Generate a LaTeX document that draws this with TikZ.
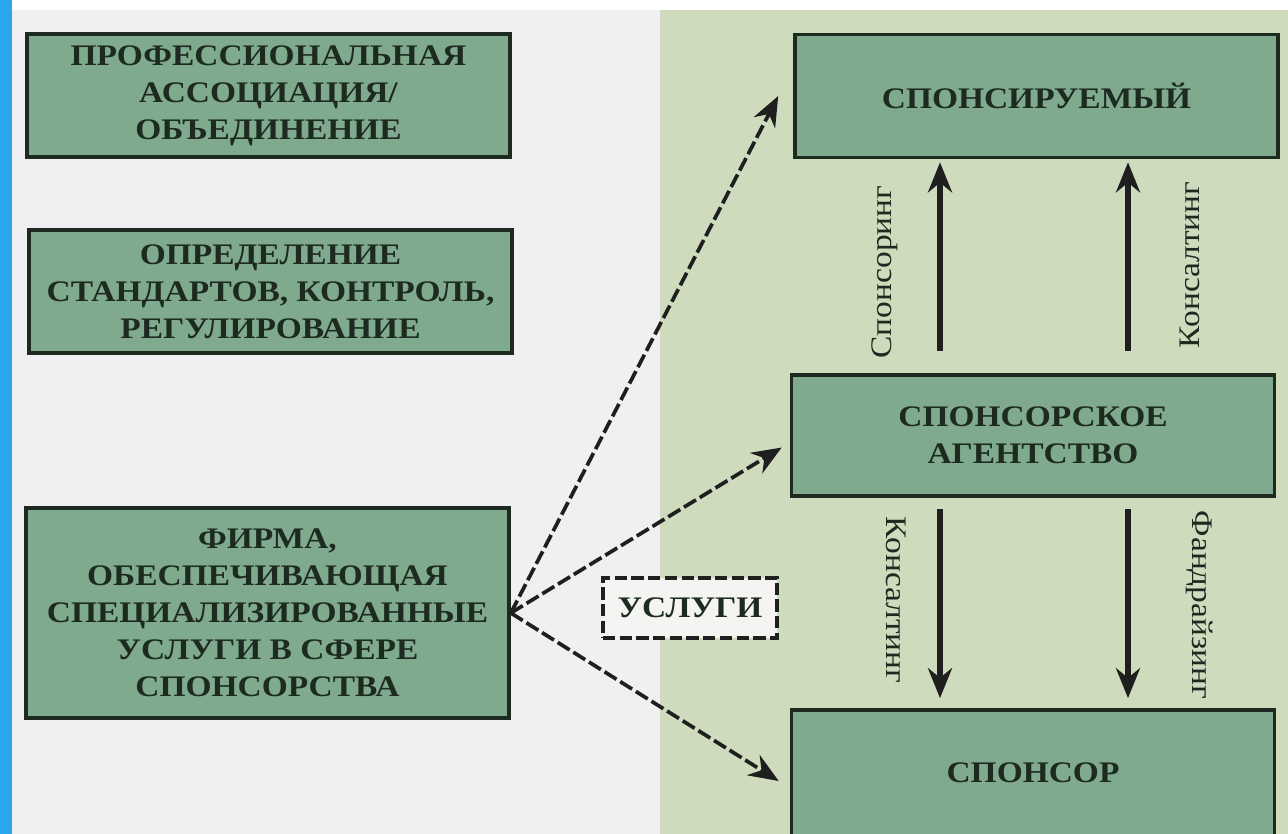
\documentclass[tikz,border=0pt]{standalone}
\usepackage{fontspec}
\setmainfont[FakeStretch=1.12]{Liberation Serif}
\usetikzlibrary{arrows.meta}
\definecolor{boxgreen}{HTML}{80AA8E}
\definecolor{panelgreen}{HTML}{CFDBBD}
\definecolor{panelgray}{HTML}{F0F0F3}
\definecolor{stripblue}{HTML}{2AA7EC}
\definecolor{edgedark}{HTML}{1C2A20}
\begin{document}
\begin{tikzpicture}[x=0.02cm,y=-0.02cm,
		orgbox/.style={draw=edgedark,line width=2.1pt,fill=boxgreen,align=center,
			minimum width=9.66cm,minimum height=2.46cm,inner sep=0pt,
			font=\bfseries\fontsize{17}{21}\selectfont,text=edgedark},
		flow/.style={line width=3pt,draw=black!88,-{Stealth[length=6mm,width=4.8mm]}},
		svc/.style={line width=2.1pt,draw=black!88,dash pattern=on 8pt off 2.5pt,
			-{Stealth[length=6mm,width=4.8mm]}},
		vlbl/.style={font=\fontsize{17}{21}\selectfont,text=edgedark,inner sep=0pt}]
	\useasboundingbox (0,0) rectangle (1288,834);
	% background panels
	\fill[white] (0,0) rectangle (1288,834);
	\fill[panelgray] (12,10) rectangle (660,834);
	\fill[panelgreen] (660,10) rectangle (1288,834);
	\fill[stripblue] (0,0) rectangle (12,834);
	% left column
	\node[orgbox] (assoc) at (268.5,95.5) {ПРОФЕССИОНАЛЬНАЯ\\АССОЦИАЦИЯ/\\ОБЪЕДИНЕНИЕ};
	\node[orgbox] (rules) at (270.5,291.5) {ОПРЕДЕЛЕНИЕ\\СТАНДАРТОВ, КОНТРОЛЬ,\\РЕГУЛИРОВАНИЕ};
	\node[orgbox,minimum height=4.2cm] (firm) at (267.5,613) {ФИРМА,\\ОБЕСПЕЧИВАЮЩАЯ\\СПЕЦИАЛИЗИРОВАННЫЕ\\УСЛУГИ В СФЕРЕ\\СПОНСОРСТВА};
	% right column
	\node[orgbox] (sponsee) at (1036.5,96) {СПОНСИРУЕМЫЙ};
	\node[orgbox,minimum height=2.42cm] (agency) at (1033,435.5) {СПОНСОРСКОЕ\\АГЕНТСТВО};
	\node[orgbox,minimum height=2.52cm] (sponsor) at (1033,773) {СПОНСОР};
	\node[draw=black!88,line width=2pt,dash pattern=on 7pt off 2.5pt,fill=panelgray!70!panelgreen!45!white,
		minimum width=3.48cm,minimum height=1.2cm,inner sep=0pt,
		font=\bfseries\fontsize{17}{21}\selectfont,text=edgedark] (services) at (690,608) {УСЛУГИ};
	% services arrows
	\draw[svc] (firm.east) -- ([xshift=-0.3cm]sponsee.west);
	\draw[svc] (firm.east) -- ([xshift=-0.16cm,yshift=-0.24cm]agency.west);
	\draw[svc] (firm.east) -- ([xshift=-0.22cm,yshift=-0.16cm]sponsor.west);
	% vertical flows
	\coordinate (colL) at (940,0);
	\coordinate (colR) at (1128,0);
	\draw[flow,shorten <=0.44cm,shorten >=0.06cm] (agency.north -| colL) -- (sponsee.south -| colL);
	\draw[flow,shorten <=0.44cm,shorten >=0.06cm] (agency.north -| colR) -- (sponsee.south -| colR);
	\draw[flow,shorten <=0.22cm,shorten >=0.2cm] (agency.south -| colL) -- (sponsor.north -| colL);
	\draw[flow,shorten <=0.22cm,shorten >=0.2cm] (agency.south -| colR) -- (sponsor.north -| colR);
	\node[vlbl,rotate=90] (lsponsoring) at (885,272) {Спонсоринг};
	\node[vlbl,rotate=90] (lconsultup) at (1190,265) {Консалтинг};
	\node[vlbl,rotate=-90] (lconsultdown) at (896,600) {Консалтинг};
	\node[vlbl,rotate=-90] (lfundraising) at (1200,605) {Фандрайзинг};
\end{tikzpicture}
\end{document}
